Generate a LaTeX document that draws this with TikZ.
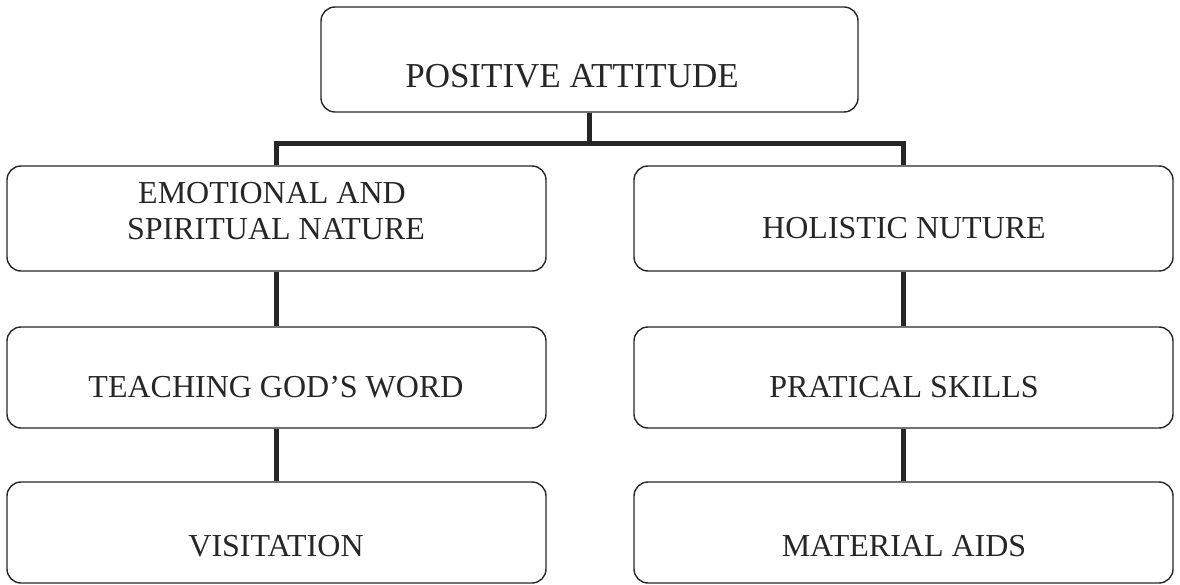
\documentclass[tikz,border=0pt]{standalone}
\usepackage{fontspec}
\setmainfont{Liberation Serif}
\begin{document}
\begin{tikzpicture}[x=1pt,y=-1pt,
  box/.style={draw=black!85, line width=1.4pt, rounded corners=14pt, minimum width=539pt, inner sep=0pt},
  lbl/.style={anchor=base, font=\fontsize{32}{36}\selectfont, inner sep=0pt, text=black!85},
  conn/.style={draw=black!85, line width=5pt}]
\useasboundingbox (0,0) rectangle (1180,585);
% boxes
\node[box, minimum width=537pt, minimum height=105pt] (top) at (589.5,59.5) {};
\node[box, minimum height=105pt] (e1) at (276.5,218.5) {};
\node[box, minimum height=101pt] (e2) at (276.5,377.5) {};
\node[box, minimum height=101pt] (e3) at (276.5,532.5) {};
\node[box, minimum height=105pt] (h1) at (903.5,218.5) {};
\node[box, minimum height=101pt] (h2) at (903.5,377.5) {};
\node[box, minimum height=101pt] (h3) at (903.5,532.5) {};
% labels
\node[lbl, font=\fontsize{35}{39}\selectfont] (ttop) at (572,88) {POSITIVE ATTITUDE};
\node[lbl] (te1a) at (272,204) {EMOTIONAL AND};
\node[lbl] (te1b) at (276,240) {SPIRITUAL NATURE};
\node[lbl] (te2) at (276,397) {TEACHING GOD’S WORD};
\node[lbl] (te3) at (276,556) {VISITATION};
\node[lbl] (th1) at (904,239) {HOLISTIC NUTURE};
\node[lbl] (th2) at (904,397) {PRATICAL SKILLS};
\node[lbl] (th3) at (904,556) {MATERIAL AIDS};
% connectors
\coordinate (j) at (589.5,144);
\draw[conn] (top.south) -- (j);
\draw[conn] (e1.north) |- (j) -| (h1.north);
\draw[conn] (e1.south) -- (e2.north);
\draw[conn] (e2.south) -- (e3.north);
\draw[conn] (h1.south) -- (h2.north);
\draw[conn] (h2.south) -- (h3.north);
\end{tikzpicture}
\end{document}
